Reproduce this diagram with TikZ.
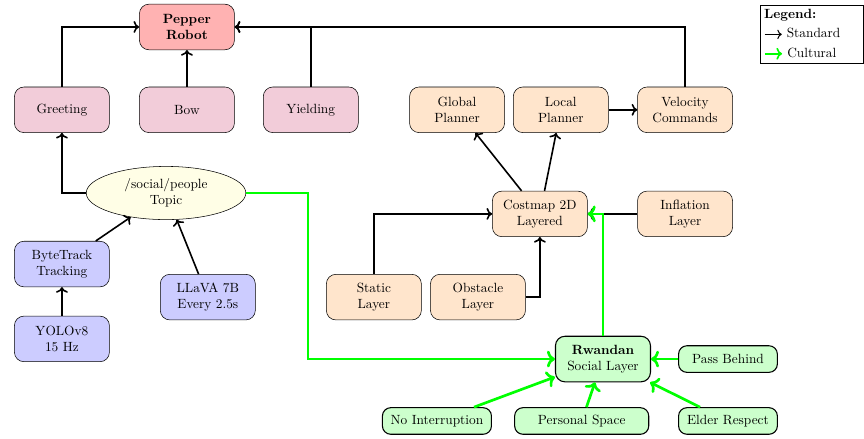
\documentclass[tikz,border=0pt]{standalone}
\usetikzlibrary{arrows.meta}
\usetikzlibrary{shapes.geometric}

\tikzset{
    box/.style={draw, rounded corners=0.25cm, minimum width=2.5cm, minimum height=1.2cm, align=center},
    robotbox/.style={box, fill=red!30, font=\bfseries},
    behavbox/.style={box, fill=purple!20},
    percbox/.style={box, fill=blue!20},
    navbox/.style={box, fill=orange!20},
    socialbox/.style={box, fill=green!20, thick},
    rulebox/.style={draw, thick, rounded corners=0.22cm, fill=green!20, minimum width=2.6cm, minimum height=0.7cm},
    topicnode/.style={draw, ellipse, fill=yellow!10, minimum width=4.2cm, minimum height=1.4cm, inner sep=1pt, align=center},
    std/.style={->, line width=1.2pt},
    cult/.style={->, line width=2pt, green},
}

\begin{document}
\begin{tikzpicture}
            \useasboundingbox (-4.92,0.71) rectangle (17.82,-10.84);

            \node[robotbox] (pepper) at (0,0) {Pepper\\Robot};

            \node[behavbox] (greeting) at (-3.29,-2.18) {Greeting};
            \node[behavbox] (bow) at (0,-2.18) {Bow};
            \node[behavbox] (yielding) at (3.26,-2.18) {Yielding};

            \node[topicnode] (topic) at (-0.55,-4.37) {/social/people\\Topic};
            \node[percbox] (bytetrack) at (-3.29,-6.24) {ByteTrack\\Tracking};
            \node[percbox] (yolo) at (-3.29,-8.21) {YOLOv8\\15 Hz};
            \node[percbox] (llava) at (0.55,-7.11) {LLaVA 7B\\Every 2.5s};

            \node[navbox] (global) at (7.11,-2.18) {Global\\Planner};
            \node[navbox] (local) at (9.84,-2.18) {Local\\Planner};
            \node[navbox] (velocity) at (13.11,-2.18) {Velocity\\Commands};
            \node[navbox] (costmap) at (9.29,-4.92) {Costmap 2D\\Layered};
            \node[navbox] (inflation) at (13.11,-4.92) {Inflation\\Layer};
            \node[navbox] (static) at (4.92,-7.11) {Static\\Layer};
            \node[navbox] (obstacle) at (7.66,-7.11) {Obstacle\\Layer};

            \node[socialbox] (rwandan) at (10.95,-8.74) {\textbf{Rwandan}\\Social Layer};
            \node[rulebox] (passbehind) at (14.24,-8.74) {Pass Behind};
            \node[rulebox, minimum width=2.87cm] (nointerrupt) at (6.58,-10.37) {No Interruption};
            \node[rulebox, minimum width=3.53cm] (personal) at (10.39,-10.37) {Personal Space};
            \node[rulebox] (elder) at (14.24,-10.37) {Elder Respect};

            % behaviours to robot
            \draw[std] (greeting.north) |- (pepper.west);
            \draw[std] (bow) -- (pepper);
            \draw[std] (yielding.north) |- (pepper.east);
            \draw[std] (velocity.north) |- (pepper.east);

            % perception
            \draw[std] (yolo) -- (bytetrack);
            \draw[std] (bytetrack) -- (topic);
            \draw[std] (llava) -- (topic);
            \draw[std] (topic.west) -| (greeting.south);

            % navigation
            \draw[std] (costmap) -- (global);
            \draw[std] (costmap) -- (local);
            \draw[std] (local) -- (velocity);
            \draw[std] (static.north) |- (costmap.west);
            \draw[std] (obstacle.east) -| (costmap.south);
            \draw[std] (inflation) -- (costmap);

            % cultural layer
            \draw[cult] (topic.east) -- ++(1.63,0) |- (rwandan.west);
            \draw[cult] (rwandan.north) |- (costmap.east);
            \draw[cult] (passbehind) -- (rwandan);
            \draw[cult] (nointerrupt) -- (rwandan);
            \draw[cult] (personal) -- (rwandan);
            \draw[cult] (elder) -- (rwandan);

            \node[draw, fill=white, align=left, anchor=north west, inner sep=3pt, text width=2.5cm] (legend) at (15.08,0.58) {\textbf{Legend:}\\[2.5pt]
                \tikz[baseline=-0.6ex]\draw[->, thick] (0,0) -- (0.45,0); Standard\\[2.5pt]
                \tikz[baseline=-0.6ex]\draw[->, very thick, green] (0,0) -- (0.45,0); Cultural};
        \end{tikzpicture}
\end{document}
